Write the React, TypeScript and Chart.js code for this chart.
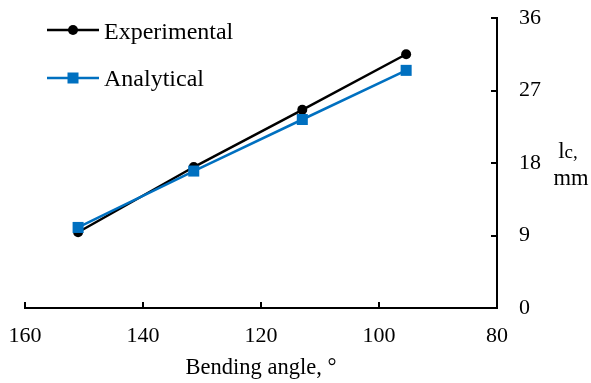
import React, { useEffect, useRef } from "react";
import { Chart, registerables } from "chart.js";

Chart.register(...registerables);

const angles = [151.0, 131.4, 113.0, 95.4];
const experimental = [9.4, 17.5, 24.6, 31.5];
const analytical = [10.0, 17.0, 23.4, 29.5];
const xTicks = [160, 140, 120, 100, 80];
const yTicks = [0, 9, 18, 27, 36];
const seriesNames = ["Experimental", "Analytical"];
const xTitle = "Bending angle, °";

const FONT = "'Liberation Serif', 'Times New Roman', serif";
const BLACK = "#000000";
const BLUE = "#0070C0";

const innerTicks = {
  id: "innerTicks",
  afterDraw(chart: any) {
    const ctx = chart.ctx;
    const xs = chart.scales.x;
    const ys = chart.scales.y;
    const area = chart.chartArea;
    ctx.save();
    ctx.strokeStyle = BLACK;
    ctx.lineWidth = 2;
    ctx.beginPath();
    xTicks.forEach((v) => {
      const px = Math.round(xs.getPixelForValue(v));
      ctx.moveTo(px, area.bottom);
      ctx.lineTo(px, area.bottom - 6);
    });
    yTicks.forEach((v) => {
      const py = Math.round(ys.getPixelForValue(v));
      ctx.moveTo(area.right, py);
      ctx.lineTo(area.right - 6, py);
    });
    ctx.stroke();

    // y axis title
    ctx.fillStyle = BLACK;
    ctx.textBaseline = "alphabetic";
    ctx.textAlign = "left";
    ctx.font = `23px ${FONT}`;
    const lW = ctx.measureText("l").width;
    ctx.font = `19px ${FONT}`;
    const cW = ctx.measureText("c,").width;
    const cx = 568;
    const startX = cx - (lW + cW) / 2;
    ctx.font = `23px ${FONT}`;
    ctx.fillText("l", startX, 158);
    ctx.font = `19px ${FONT}`;
    ctx.fillText("c,", startX + lW, 158);
    ctx.font = `22.5px ${FONT}`;
    ctx.textAlign = "center";
    ctx.fillText("mm", 571, 185);

    // legend
    const items = [
      { name: seriesNames[0], color: BLACK, style: "circle", y: 30, base: 39 },
      { name: seriesNames[1], color: BLUE, style: "rect", y: 78, base: 86 },
    ];
    items.forEach((it) => {
      ctx.strokeStyle = it.color;
      ctx.fillStyle = it.color;
      ctx.lineWidth = 2.5;
      ctx.beginPath();
      ctx.moveTo(47, it.y);
      ctx.lineTo(99, it.y);
      ctx.stroke();
      if (it.style === "circle") {
        ctx.beginPath();
        ctx.arc(73, it.y, 5, 0, Math.PI * 2);
        ctx.fill();
      } else {
        ctx.fillRect(73 - 5.5, it.y - 5.5, 11, 11);
      }
      ctx.fillStyle = BLACK;
      ctx.font = `24px ${FONT}`;
      ctx.textAlign = "left";
      ctx.fillText(it.name, 104, it.base);
    });
    ctx.restore();
  },
};

export default function App() {
  const ref = useRef<HTMLCanvasElement>(null);
  useEffect(() => {
    if (!ref.current) return;
    const chart = new Chart(ref.current, {
      type: "line",
      data: {
        datasets: [
          {
            label: seriesNames[0],
            data: angles.map((a, i) => ({ x: a, y: experimental[i] })),
            borderColor: BLACK,
            backgroundColor: BLACK,
            borderWidth: 2.5,
            pointStyle: "circle",
            pointRadius: 5,
            pointBorderWidth: 0,
            order: 1,
          },
          {
            label: seriesNames[1],
            data: angles.map((a, i) => ({ x: a, y: analytical[i] })),
            borderColor: BLUE,
            backgroundColor: BLUE,
            borderWidth: 2.5,
            pointStyle: "rect",
            pointRadius: 7.8,
            pointBorderWidth: 0,
            order: 0,
          },
        ],
      },
      options: {
        responsive: false,
        animation: false,
        devicePixelRatio: 1,
        layout: { padding: { left: 25, top: 18, right: 0, bottom: 0 } },
        plugins: { legend: { display: false }, tooltip: { enabled: false } },
        scales: {
          x: {
            type: "linear",
            reverse: true,
            min: 80,
            max: 160,
            afterBuildTicks: (s: any) => {
              s.ticks = xTicks.map((v) => ({ value: v }));
            },
            afterFit: (s: any) => {
              s.height = 75;
              s.paddingLeft = 0;
              s.paddingRight = 0;
            },
            grid: { display: false },
            border: { display: true, color: BLACK, width: 2 },
            ticks: {
              color: BLACK,
              font: { family: FONT, size: 22 },
              padding: 7,
              maxRotation: 0,
            },
            title: {
              display: true,
              text: xTitle,
              color: BLACK,
              font: { family: FONT, size: 22.5 },
              padding: { top: 0, bottom: 1 },
            },
          },
          y: {
            type: "linear",
            position: "right",
            min: 0,
            max: 36,
            afterBuildTicks: (s: any) => {
              s.ticks = yTicks.map((v) => ({ value: v }));
            },
            afterFit: (s: any) => {
              s.width = 94;
              s.paddingTop = 0;
              s.paddingBottom = 0;
            },
            grid: { display: false },
            border: { display: true, color: BLACK, width: 2 },
            ticks: {
              color: BLACK,
              font: { family: FONT, size: 22 },
              padding: 14,
            },
          },
        },
      },
      plugins: [innerTicks],
    });
    return () => chart.destroy();
  }, []);
  return (
    <div style={{ position: "absolute", left: 0, top: 0, width: 591, height: 383, background: "#fff" }}>
      <canvas ref={ref} width={591} height={383} />
    </div>
  );
}
